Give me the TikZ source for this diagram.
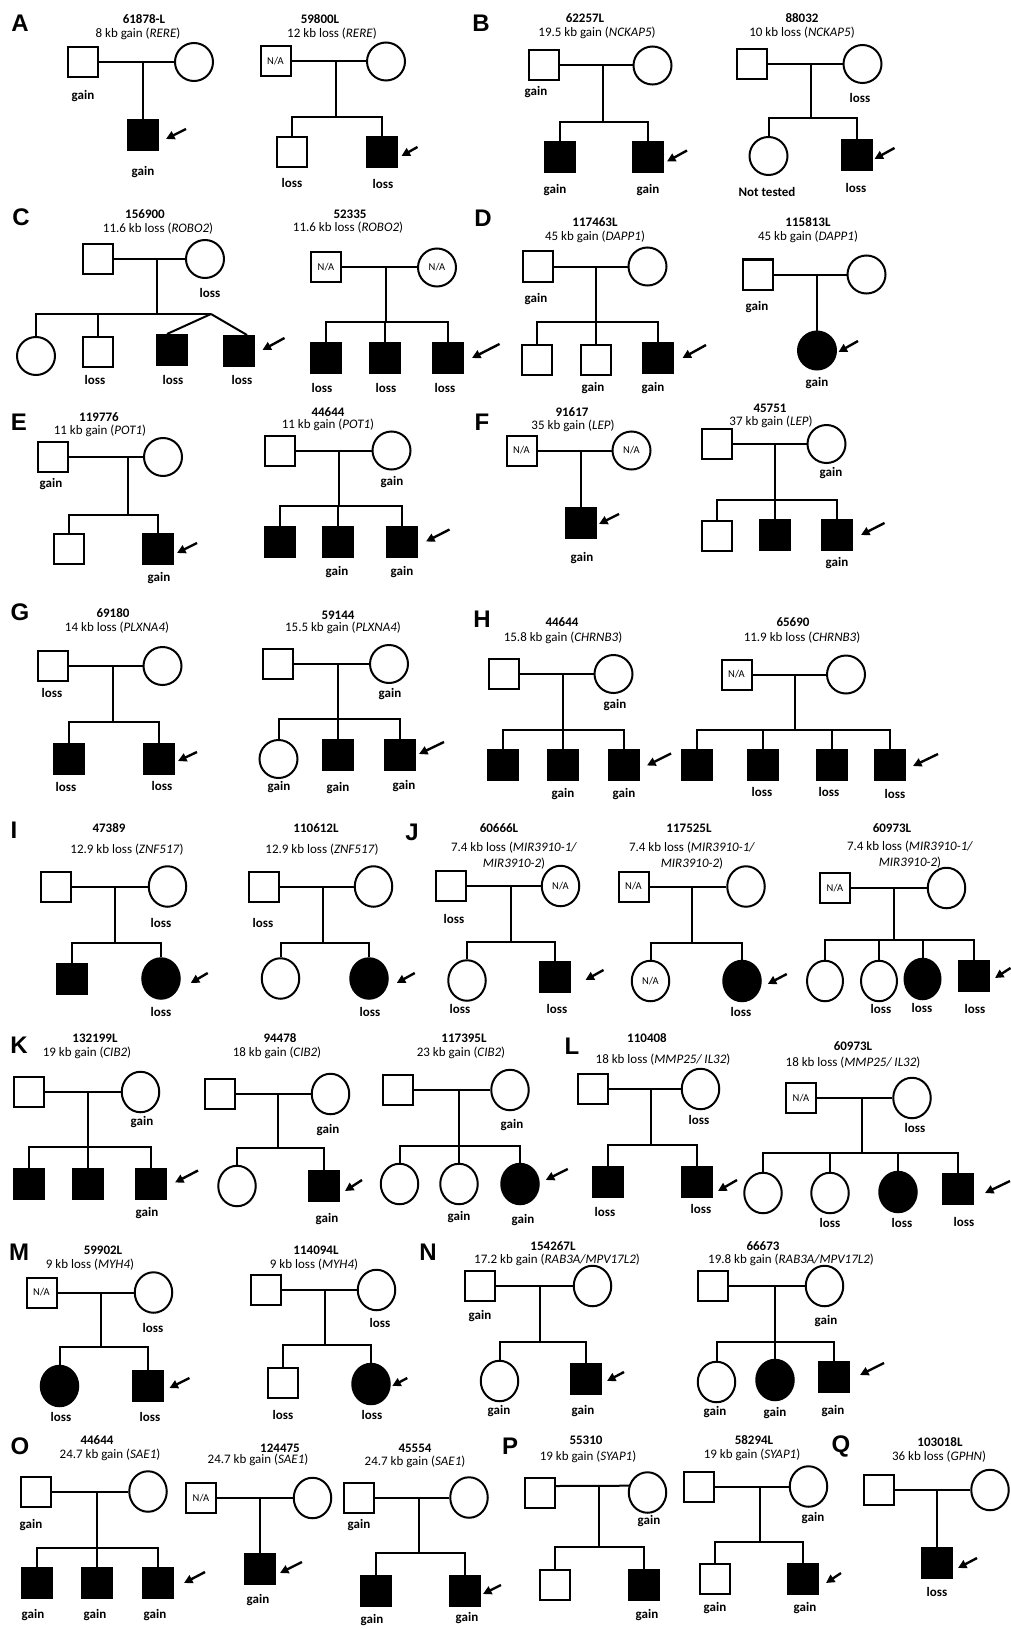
\documentclass[tikz,border=0pt]{standalone}
\usepackage{fontspec}
\setmainfont{Carlito}
\newfontfamily\panelfont{Liberation Sans}
\usetikzlibrary{shapes.geometric,arrows.meta}
\tikzset{
  lw/.style={line width=2pt},
  msq/.style={draw, rectangle, line width=2pt, minimum width=30pt, minimum height=30pt, inner sep=0pt, fill=white, font=\fontsize{10.5}{12}\selectfont},
  msqa/.style={msq, fill=black},
  fci/.style={draw, circle, line width=2pt, minimum size=38pt, inner sep=0pt, fill=white, font=\fontsize{10.5}{12}\selectfont},
  fcia/.style={fci, fill=black},
  fel/.style={draw, ellipse, line width=2pt, minimum width=37.5pt, minimum height=40.5pt, inner sep=0pt, fill=white, font=\fontsize{10.5}{12}\selectfont},
  fela/.style={fel, fill=black},
  pid/.style={font=\bfseries\fontsize{13}{15}\selectfont, inner sep=0pt},
  cnv/.style={font=\fontsize{13}{16}\selectfont, inner sep=0pt, align=center},
  gl/.style={font=\bfseries\fontsize{13}{15}\selectfont, inner sep=0pt},
  panel/.style={font=\panelfont\bfseries\fontsize{24}{24}\selectfont, inner sep=0pt},
  arr/.style={line width=2.4pt, -{Triangle[length=8.5pt,width=8.5pt]}},
}
\newcommand{\pa}[5]{\draw[arr] ([shift={(#2pt,#3pt)}]#1.east) -- ([shift={(#4pt,#5pt)}]#1.east);}
\begin{document}
\begin{tikzpicture}[x=1pt,y=-1pt]
\fill[white] (0,0) rectangle (1010,1629);
\useasboundingbox (0,0) rectangle (1010,1629);

% ================= A =================
\node[panel] (pA) at (20,23) {A};
% A1
\node[pid] (a1id) at (144,19) {61878-L};
\node[cnv] (a1cnv) at (138,34) {8 kb gain (\textit{RERE})};
\node[msq] (a1f) at (82.5,62) {};
\node[fci] (a1m) at (194,62) {};
\coordinate (a1t) at (143,62);
\node[msqa] (a1c) at (143,135.5) {};
\node[gl] (a1fl) at (83,96) {gain};
\node[gl] (a1cl) at (143,172) {gain};
\draw[lw] (a1f) -- (a1m);
\draw[lw] (a1t) -- (a1c);
\pa{a1c}{27}{6.5}{7}{-3.5}
% A2
\node[pid] (a2id) at (320,19) {59800L};
\node[cnv] (a2cnv) at (332,34) {12 kb loss (\textit{RERE})};
\node[msq] (a2f) at (275.5,61.5) {N/A};
\node[fci] (a2m) at (386,61.5) {};
\coordinate (a2t) at (336,61.5);
\coordinate (a2s) at (336,117);
\node[msq] (a2c1) at (292,152.5) {};
\node[msqa] (a2c2) at (381.5,152.5) {};
\node[gl] (a2c1l) at (292,183) {loss};
\node[gl] (a2c2l) at (383,184) {loss};
\draw[lw] (a2f) -- (a2m);
\draw[lw] (a2t) -- (a2s);
\draw[lw] (a2c1) |- (a2s) -| (a2c2);
\pa{a2c2}{20}{5.5}{4}{-3.5}

% ================= B =================
\node[panel] (pB) at (481,23) {B};
% B1
\node[pid] (b1id) at (585,18) {62257L};
\node[cnv] (b1cnv) at (597,33) {19.5 kb gain (\textit{NCKAP5})};
\node[msq] (b1f) at (543.5,65.5) {};
\node[fci] (b1m) at (652.5,65.5) {};
\coordinate (b1t) at (603,65.5);
\coordinate (b1s) at (603,122);
\node[msqa] (b1c1) at (560,157) {};
\node[msqa] (b1c2) at (648,157) {};
\node[gl] (b1fl) at (536,92) {gain};
\node[gl] (b1c1l) at (555,190) {gain};
\node[gl] (b1c2l) at (648,190) {gain};
\draw[lw] (b1f) -- (b1m);
\draw[lw] (b1t) -- (b1s);
\draw[lw] (b1c1) |- (b1s) -| (b1c2);
\pa{b1c2}{23}{6.5}{3}{-4.5}
% B2
\node[pid] (b2id) at (802,18) {88032};
\node[cnv] (b2cnv) at (802,33) {10 kb loss (\textit{NCKAP5})};
\node[msq] (b2f) at (752,64) {};
\node[fci] (b2m) at (862.5,64) {};
\coordinate (b2t) at (811,64);
\coordinate (b2s) at (811,118);
\node[fci] (b2c1) at (768.5,156) {};
\node[msqa] (b2c2) at (856.5,155.5) {};
\node[gl] (b2ml) at (860,98) {loss};
\node[gl] (b2c1l) at (767,192) {Not tested};
\node[gl] (b2c2l) at (856,188) {loss};
\draw[lw] (b2f) -- (b2m);
\draw[lw] (b2t) -- (b2s);
\draw[lw] (b2c1) |- (b2s) -| (b2c2);
\pa{b2c2}{22}{7.5}{2}{-3.5}

% ================= C =================
\node[panel] (pC) at (21,217) {C};
% C1
\node[pid] (c1id) at (145,214) {156900};
\node[cnv] (c1cnv) at (158,229) {11.6 kb loss (\textit{ROBO2})};
\node[msq] (c1f) at (97.5,259) {};
\node[fci] (c1m) at (205,259) {};
\coordinate (c1t) at (157,259);
\coordinate (c1s) at (157,314);
\coordinate (c1ap) at (211,314);
\node[fci] (c1c1) at (36,356) {};
\node[msq] (c1c2) at (98,352) {};
\node[msqa] (c1c3) at (171.5,350) {};
\node[msqa] (c1c4) at (238.5,351) {};
\node[gl] (c1ml) at (210,293) {loss};
\node[gl] (c1c2l) at (95,380) {loss};
\node[gl] (c1c3l) at (173,380) {loss};
\node[gl] (c1c4l) at (242,380) {loss};
\draw[lw] (c1f) -- (c1m);
\draw[lw] (c1t) -- (c1s);
\draw[lw] (c1c1) |- (c1ap);
\draw[lw] (c1s -| c1c2) -- (c1c2);
\draw[lw] (c1ap) -- ([xshift=-4.5pt]c1c3.north);
\draw[lw] (c1ap) -- ([xshift=8.5pt]c1c4.north);
\pa{c1c4}{30}{13}{8}{1}
% C2
\node[pid] (c2id) at (350,214) {52335};
\node[cnv] (c2cnv) at (348,228) {11.6 kb loss (\textit{ROBO2})};
\node[msq] (c2f) at (326,267) {N/A};
\node[fci] (c2m) at (437,267.5) {N/A};
\coordinate (c2t) at (386,267);
\coordinate (c2s) at (386,322);
\node[msqa] (c2c1) at (326,357.5) {};
\node[msqa] (c2c2) at (385,357.5) {};
\node[msqa] (c2c3) at (447.5,357.5) {};
\node[gl] (c2c1l) at (322,388) {loss};
\node[gl] (c2c2l) at (386,388) {loss};
\node[gl] (c2c3l) at (445,388) {loss};
\draw[lw] (c2f.east) -- (c2f.east -| c2m.west);
\draw[lw] (c2t) -- (c2s);
\draw[lw] (c2c1) |- (c2s) -| (c2c3);
\draw[lw] (c2s -| c2c2) -- (c2c2);
\pa{c2c3}{36}{13.5}{8.5}{-0.5}

% ================= D =================
\node[panel] (pD) at (483,218) {D};
% D1
\node[pid] (d1id) at (595,222) {117463L};
\node[cnv] (d1cnv) at (595,237) {45 kb gain (\textit{DAPP1})};
\node[msq] (d1f) at (537.5,266.5) {};
\node[fci] (d1m) at (647.5,266.5) {};
\coordinate (d1t) at (596,266.5);
\coordinate (d1s) at (596,322);
\node[msq] (d1c1) at (537,359.5) {};
\node[msq] (d1c2) at (595.5,359.5) {};
\node[msqa] (d1c3) at (658,357.5) {};
\node[gl] (d1fl) at (536,299) {gain};
\node[gl] (d1c2l) at (593,388) {gain};
\node[gl] (d1c3l) at (653,388) {gain};
\draw[lw] (d1f) -- (d1m);
\draw[lw] (d1t) -- (d1s);
\draw[lw] (d1c1) |- (d1s) -| (d1c3);
\draw[lw] (d1s -| d1c2) -- (d1c2);
\pa{d1c3}{32}{12.5}{8.5}{-0.5}
% D2
\node[pid] (d2id) at (808,222) {115813L};
\node[cnv] (d2cnv) at (808,237) {45 kb gain (\textit{DAPP1})};
\node[msq] (d2f) at (758,274.5) {};
\node[fci] (d2m) at (866.5,274.5) {};
\coordinate (d2t) at (817,274.5);
\node[fcia] (d2c) at (817,350.5) {};
\node[gl] (d2fl) at (757,307) {gain};
\node[gl] (d2cl) at (817,383) {gain};
\draw[lw] (d2f) -- (d2m);
\draw[lw] (d2t) -- (d2c);
\pa{d2c}{21}{9.5}{1.5}{-1.5}

% ================= E =================
\node[panel] (pE) at (19,422) {E};
% E1
\node[pid] (e1id) at (99,417) {119776};
\node[cnv] (e1cnv) at (100,431) {11 kb gain (\textit{POT1})};
\node[msq] (e1f) at (52.5,457) {};
\node[fci] (e1m) at (163,457) {};
\coordinate (e1t) at (128,457);
\coordinate (e1s) at (128,515);
\node[msq] (e1c1) at (68.5,549) {};
\node[msqa] (e1c2) at (158,549) {};
\node[gl] (e1fl) at (51,484) {gain};
\node[gl] (e1c2l) at (159,578) {gain};
\draw[lw] (e1f) -- (e1m);
\draw[lw] (e1t) -- (e1s);
\draw[lw] (e1c1) |- (e1s) -| (e1c2);
\pa{e1c2}{23}{6}{3}{-4}
% E2
\node[pid] (e2id) at (328,412) {44644};
\node[cnv] (e2cnv) at (328,425) {11 kb gain (\textit{POT1})};
\node[msq] (e2f) at (280,450.5) {};
\node[fci] (e2m) at (391.5,450.5) {};
\coordinate (e2t) at (339,450.5);
\coordinate (e2s) at (339,506);
\node[msqa] (e2c1) at (280,541.5) {};
\node[msqa] (e2c2) at (338,541.5) {};
\node[msqa] (e2c3) at (401.5,541.5) {};
\node[gl] (e2ml) at (392,482) {gain};
\node[gl] (e2c2l) at (337,572) {gain};
\node[gl] (e2c3l) at (402,572) {gain};
\draw[lw] (e2f) -- (e2m);
\draw[lw] (e2t) -- (e2s);
\draw[lw] (e2c1) |- (e2s) -| (e2c3);
\draw[lw] (e2s -| e2c2) -- (e2c2);
\pa{e2c3}{32}{12}{8.5}{0}

% ================= F =================
\node[panel] (pF) at (482,422) {F};
% F1
\node[pid] (f1id) at (572,412) {91617};
\node[cnv] (f1cnv) at (573,426) {35 kb gain (\textit{LEP})};
\node[msq] (f1f) at (521.5,450.5) {N/A};
\node[fci] (f1m) at (631.5,450.5) {N/A};
\coordinate (f1t) at (581,450.5);
\node[msqa] (f1c) at (581,522.5) {};
\node[gl] (f1cl) at (582,558) {gain};
\draw[lw] (f1f) -- (f1m);
\draw[lw] (f1t) -- (f1c);
\pa{f1c}{22}{8.5}{2}{-1.5}
% F2
\node[pid] (f2id) at (770,408) {45751};
\node[cnv] (f2cnv) at (771,422) {37 kb gain (\textit{LEP})};
\node[msq] (f2f) at (716.5,444) {};
\node[fci] (f2m) at (826.5,444) {};
\coordinate (f2t) at (775,444);
\coordinate (f2s) at (775,500);
\node[msq] (f2c1) at (716.5,536) {};
\node[msqa] (f2c2) at (775,535) {};
\node[msqa] (f2c3) at (836.5,535) {};
\node[gl] (f2ml) at (831,473) {gain};
\node[gl] (f2c3l) at (837,563) {gain};
\draw[lw] (f2f) -- (f2m);
\draw[lw] (f2t) -- (f2s);
\draw[lw] (f2c1) |- (f2s) -| (f2c3);
\draw[lw] (f2s -| f2c2) -- (f2c2);
\pa{f2c3}{32}{12}{8.5}{0}

% ================= G =================
\node[panel] (pG) at (20,612) {G};
% G1
\node[pid] (g1id) at (113,613) {69180};
\node[cnv] (g1cnv) at (117,628) {14 kb loss (\textit{PLXNA4})};
\node[msq] (g1f) at (52.5,666) {};
\node[fci] (g1m) at (162.5,666) {};
\coordinate (g1t) at (113,666);
\coordinate (g1s) at (113,722);
\node[msqa] (g1c1) at (68.5,758.5) {};
\node[msqa] (g1c2) at (158.5,758.5) {};
\node[gl] (g1fl) at (52,693) {loss};
\node[gl] (g1c1l) at (66,787) {loss};
\node[gl] (g1c2l) at (162,786) {loss};
\draw[lw] (g1f) -- (g1m);
\draw[lw] (g1t) -- (g1s);
\draw[lw] (g1c1) |- (g1s) -| (g1c2);
\pa{g1c2}{22.5}{6.5}{3.5}{-2.5}
% G2
\node[pid] (g2id) at (338,615) {59144};
\node[cnv] (g2cnv) at (343,628) {15.5 kb gain (\textit{PLXNA4})};
\node[msq] (g2f) at (277.5,664) {};
\node[fci] (g2m) at (389,664) {};
\coordinate (g2t) at (338,664);
\coordinate (g2s) at (338,719);
\node[fci] (g2c1) at (278.5,759) {};
\node[msqa] (g2c2) at (338,754.5) {};
\node[msqa] (g2c3) at (399.5,755) {};
\node[gl] (g2ml) at (390,694) {gain};
\node[gl] (g2c1l) at (279,787) {gain};
\node[gl] (g2c2l) at (338,788) {gain};
\node[gl] (g2c3l) at (404,786) {gain};
\draw[lw] (g2f) -- (g2m);
\draw[lw] (g2t) -- (g2s);
\draw[lw] (g2c1) |- (g2s) -| (g2c3);
\draw[lw] (g2s -| g2c2) -- (g2c2);
\pa{g2c3}{28.5}{13}{3.5}{1}

% ================= H =================
\node[panel] (pH) at (482,619) {H};
% H1
\node[pid] (h1id) at (562,622) {44644};
\node[cnv] (h1cnv) at (563,638) {15.8 kb gain (\textit{CHRNB3})};
\node[msq] (h1f) at (503.5,674) {};
\node[fci] (h1m) at (613.5,674) {};
\coordinate (h1t) at (563,674);
\coordinate (h1s) at (563,730);
\node[msqa] (h1c1) at (503,765) {};
\node[msqa] (h1c2) at (563,765) {};
\node[msqa] (h1c3) at (623.5,765) {};
\node[gl] (h1ml) at (615,705) {gain};
\node[gl] (h1c2l) at (563,794) {gain};
\node[gl] (h1c3l) at (624,794) {gain};
\draw[lw] (h1f) -- (h1m);
\draw[lw] (h1t) -- (h1s);
\draw[lw] (h1c1) |- (h1s) -| (h1c3);
\draw[lw] (h1s -| h1c2) -- (h1c2);
\pa{h1c3}{31.5}{11.5}{7.5}{-0.5}
% H2
\node[pid] (h2id) at (793,622) {65690};
\node[cnv] (h2cnv) at (802,638) {11.9 kb loss (\textit{CHRNB3})};
\node[msq] (h2f) at (736.5,674.5) {N/A};
\node[fci] (h2m) at (846,674.5) {};
\coordinate (h2t) at (795,674.5);
\coordinate (h2s) at (795,730);
\node[msqa] (h2c1) at (697,765) {};
\node[msqa] (h2c2) at (763,765) {};
\node[msqa] (h2c3) at (832,765) {};
\node[msqa] (h2c4) at (890,765) {};
\node[gl] (h2c2l) at (762,792) {loss};
\node[gl] (h2c3l) at (829,792) {loss};
\node[gl] (h2c4l) at (895,794) {loss};
\draw[lw] (h2f) -- (h2m);
\draw[lw] (h2t) -- (h2s);
\draw[lw] (h2c1) |- (h2s) -| (h2c4);
\draw[lw] (h2s -| h2c2) -- (h2c2);
\draw[lw] (h2s -| h2c3) -- (h2c3);
\pa{h2c4}{32}{11}{7}{-1}

% ================= I =================
\node[panel] (pI) at (14,830) {I};
% I1
\node[pid] (i1id) at (109,828) {47389};
\node[cnv] (i1cnv) at (127,850) {12.9 kb loss (\textit{ZNF517})};
\node[msq] (i1f) at (55.5,886.5) {};
\node[fel] (i1m) at (167.5,886.5) {};
\coordinate (i1t) at (115,886.5);
\coordinate (i1s) at (115,943);
\node[msqa] (i1c1) at (72,979) {};
\node[fela] (i1c2) at (161,978.5) {};
\node[gl] (i1ml) at (161,923) {loss};
\node[gl] (i1c2l) at (161,1012) {loss};
\draw[lw] (i1f) -- (i1m);
\draw[lw] (i1t) -- (i1s);
\draw[lw] (i1c1) |- (i1s) -| (i1c2);
\pa{i1c2}{27}{5.5}{10}{-4.5}
% I2
\node[pid] (i2id) at (316,828) {110612L};
\node[cnv] (i2cnv) at (322,850) {12.9 kb loss (\textit{ZNF517})};
\node[msq] (i2f) at (263.5,886.5) {};
\node[fel] (i2m) at (373.5,886.5) {};
\coordinate (i2t) at (323,886.5);
\coordinate (i2s) at (323,943);
\node[fel] (i2c1) at (280.5,978.5) {};
\node[fela] (i2c2) at (369,978.5) {};
\node[gl] (i2fl) at (263,923) {loss};
\node[gl] (i2c2l) at (370,1012) {loss};
\draw[lw] (i2f) -- (i2m);
\draw[lw] (i2t) -- (i2s);
\draw[lw] (i2c1) |- (i2s) -| (i2c2);
\pa{i2c2}{26}{5.5}{8}{-4.5}

% ================= J =================
\node[panel] (pJ) at (412,832) {J};
% J1
\node[pid] (j1id) at (499,828) {60666L};
\node[cnv] (j1cnv) at (514,856) {7.4 kb loss (\textit{MIR3910-1/}\\\textit{MIR3910-2})};
\node[msq] (j1f) at (451,886) {};
\node[fel] (j1m) at (560.5,886) {N/A};
\coordinate (j1t) at (511,886);
\coordinate (j1s) at (511,942);
\node[fel] (j1c1) at (467,980.5) {};
\node[msqa] (j1c2) at (554.5,977) {};
\node[gl] (j1fl) at (454,919) {loss};
\node[gl] (j1c1l) at (460,1009) {loss};
\node[gl] (j1c2l) at (557,1009) {loss};
\draw[lw] (j1f) -- (j1m);
\draw[lw] (j1t) -- (j1s);
\draw[lw] (j1c1) |- (j1s) -| (j1c2);
\pa{j1c2}{33}{7}{15}{-3}
% J2
\node[pid] (j2id) at (689,828) {117525L};
\node[cnv] (j2cnv) at (692,856) {7.4 kb loss (\textit{MIR3910-1/}\\\textit{MIR3910-2})};
\node[msq] (j2f) at (633.5,886.5) {N/A};
\node[fel] (j2m) at (746,886.5) {};
\coordinate (j2t) at (692,886.5);
\coordinate (j2s) at (692,943);
\node[fel] (j2c1) at (650.5,981) {N/A};
\node[fela] (j2c2) at (742,981) {};
\node[gl] (j2c2l) at (741,1012) {loss};
\draw[lw] (j2f) -- (j2m);
\draw[lw] (j2t) -- (j2s);
\draw[lw] (j2c1) |- (j2s) -| (j2c2);
\pa{j2c2}{25}{7}{6}{-3}
% J3
\node[pid] (j3id) at (892,828) {60973L};
\node[cnv] (j3cnv) at (910,855) {7.4 kb loss (\textit{MIR3910-1/}\\\textit{MIR3910-2})};
\node[msq] (j3f) at (835,888) {N/A};
\node[fel] (j3m) at (946.5,888) {};
\coordinate (j3t) at (894,888);
\coordinate (j3s) at (894,940);
\node[fel, minimum width=36pt] (j3c1) at (825,981) {};
\node[fel, minimum width=36pt] (j3c2) at (879,981) {};
\node[fela, minimum width=36pt] (j3c3) at (922.5,979) {};
\node[msqa] (j3c4) at (973.5,976) {};
\node[gl] (j3c2l) at (881,1009) {loss};
\node[gl] (j3c3l) at (922,1008) {loss};
\node[gl] (j3c4l) at (975,1009) {loss};
\draw[lw] (j3f) -- (j3m);
\draw[lw] (j3t) -- (j3s);
\draw[lw] (j3c1) |- (j3s) -| (j3c4);
\draw[lw] (j3s -| j3c2) -- (j3c2);
\draw[lw] (j3s -| j3c3) -- (j3c3);
\pa{j3c4}{21}{8}{5.5}{-2}

% ================= K =================
\node[panel] (pK) at (19,1045) {K};
% K1
\node[pid] (k1id) at (95,1038) {132199L};
\node[cnv] (k1cnv) at (87,1053) {19 kb gain (\textit{CIB2})};
\node[msq] (k1f) at (28.5,1092) {};
\node[fel] (k1m) at (140.5,1092) {};
\coordinate (k1t) at (88,1092);
\coordinate (k1s) at (88,1147);
\node[msqa] (k1c1) at (28.5,1183.5) {};
\node[msqa] (k1c2) at (88,1183.5) {};
\node[msqa] (k1c3) at (150.5,1183.5) {};
\node[gl] (k1ml) at (142,1122) {gain};
\node[gl] (k1c3l) at (147,1213) {gain};
\draw[lw] (k1f) -- (k1m);
\draw[lw] (k1t) -- (k1s);
\draw[lw] (k1c1) |- (k1s) -| (k1c3);
\draw[lw] (k1s -| k1c2) -- (k1c2);
\pa{k1c3}{31.5}{13}{8.5}{1}
% K2
\node[pid] (k2id) at (280,1038) {94478};
\node[cnv] (k2cnv) at (277,1053) {18 kb gain (\textit{CIB2})};
\node[msq] (k2f) at (219.5,1094) {};
\node[fel] (k2m) at (330.5,1094) {};
\coordinate (k2t) at (278,1094);
\coordinate (k2s) at (278,1148);
\node[fel] (k2c1) at (237,1186) {};
\node[msqa] (k2c2) at (324,1186) {};
\node[gl] (k2ml) at (328,1130) {gain};
\node[gl] (k2c2l) at (327,1219) {gain};
\draw[lw] (k2f) -- (k2m);
\draw[lw] (k2t) -- (k2s);
\draw[lw] (k2c1) |- (k2s) -| (k2c2);
\pa{k2c2}{22}{6}{5}{-5}
% K3
\node[pid] (k3id) at (464,1038) {117395L};
\node[cnv] (k3cnv) at (461,1053) {23 kb gain (\textit{CIB2})};
\node[msq] (k3f) at (397.5,1090) {};
\node[fel] (k3m) at (510,1090) {};
\coordinate (k3t) at (459,1090);
\coordinate (k3s) at (459,1146);
\node[fel] (k3c1) at (399.5,1184) {};
\node[fel] (k3c2) at (459,1184) {};
\node[fela] (k3c3) at (520,1184) {};
\node[gl] (k3ml) at (512,1125) {gain};
\node[gl] (k3c2l) at (459,1217) {gain};
\node[gl] (k3c3l) at (523,1220) {gain};
\draw[lw] (k3f) -- (k3m);
\draw[lw] (k3t) -- (k3s);
\draw[lw] (k3c1) |- (k3s) -| (k3c3);
\draw[lw] (k3s -| k3c2) -- (k3c2);
\pa{k3c3}{28}{15}{6}{4}

% ================= L =================
\node[panel] (pL) at (572,1046) {L};
% L1
\node[pid] (l1id) at (647,1038) {110408};
\node[cnv] (l1cnv) at (663,1060) {18 kb loss (\textit{MMP25/ IL32})};
\node[msq] (l1f) at (592.5,1089) {};
\node[fel] (l1m) at (700.5,1089) {};
\coordinate (l1t) at (651,1089);
\coordinate (l1s) at (651,1145);
\node[msqa] (l1c1) at (607.5,1182) {};
\node[msqa] (l1c2) at (697,1182) {};
\node[gl] (l1ml) at (699,1120) {loss};
\node[gl] (l1c1l) at (605,1212) {loss};
\node[gl] (l1c2l) at (701,1209) {loss};
\draw[lw] (l1f) -- (l1m);
\draw[lw] (l1t) -- (l1s);
\draw[lw] (l1c1) |- (l1s) -| (l1c2);
\pa{l1c2}{24}{2}{5}{-9}
% L2
\node[pid] (l2id) at (853,1046) {60973L};
\node[cnv] (l2cnv) at (853,1063) {18 kb loss (\textit{MMP25/ IL32})};
\node[msq] (l2f) at (801,1098) {N/A};
\node[fel] (l2m) at (912,1098) {};
\coordinate (l2t) at (862,1098);
\coordinate (l2s) at (862,1153);
\node[fel] (l2c1) at (763,1193) {};
\node[fel] (l2c2) at (830,1193) {};
\node[fela] (l2c3) at (898,1192) {};
\node[msqa] (l2c4) at (957.5,1189) {};
\node[gl] (l2ml) at (915,1128) {loss};
\node[gl] (l2c2l) at (830,1223) {loss};
\node[gl] (l2c3l) at (902,1223) {loss};
\node[gl] (l2c4l) at (964,1222) {loss};
\draw[lw] (l2f) -- (l2m);
\draw[lw] (l2t) -- (l2s);
\draw[lw] (l2c1) |- (l2s) -| (l2c4);
\draw[lw] (l2s -| l2c2) -- (l2c2);
\draw[lw] (l2s -| l2c3) -- (l2c3);
\pa{l2c4}{36.5}{8}{11.5}{-4}

% ================= M =================
\node[panel] (pM) at (19,1252) {M};
% M1
\node[pid] (m1id) at (103,1250) {59902L};
\node[cnv] (m1cnv) at (90,1265) {9 kb loss (\textit{MYH4})};
\node[msq] (m1f) at (41.5,1292.5) {N/A};
\node[fel] (m1m) at (153.5,1292.5) {};
\coordinate (m1t) at (101,1292.5);
\coordinate (m1s) at (101,1347);
\node[fela] (m1c1) at (59.5,1386) {};
\node[msqa] (m1c2) at (148,1385.5) {};
\node[gl] (m1ml) at (153,1328) {loss};
\node[gl] (m1c1l) at (61,1417) {loss};
\node[gl] (m1c2l) at (150,1417) {loss};
\draw[lw] (m1f) -- (m1m);
\draw[lw] (m1t) -- (m1s);
\draw[lw] (m1c1) |- (m1s) -| (m1c2);
\pa{m1c2}{25.5}{7.5}{5.5}{-2.5}
% M2
\node[pid] (m2id) at (316,1250) {114094L};
\node[cnv] (m2cnv) at (314,1265) {9 kb loss (\textit{MYH4})};
\node[msq] (m2f) at (265.5,1290) {};
\node[fel] (m2m) at (376.5,1290) {};
\coordinate (m2t) at (325,1290);
\coordinate (m2s) at (325,1345);
\node[msq] (m2c1) at (282.5,1383) {};
\node[fela] (m2c2) at (371,1384) {};
\node[gl] (m2ml) at (380,1323) {loss};
\node[gl] (m2c1l) at (283,1415) {loss};
\node[gl] (m2c2l) at (372,1415) {loss};
\draw[lw] (m2f) -- (m2m);
\draw[lw] (m2t) -- (m2s);
\draw[lw] (m2c1) |- (m2s) -| (m2c2);
\pa{m2c2}{16.5}{6}{1.5}{-2}

% ================= N =================
\node[panel] (pN) at (428,1252) {N};
% N1
\node[pid] (n1id) at (553,1246) {154267L};
\node[cnv] (n1cnv) at (557,1260) {17.2 kb gain (\textit{RAB3A/MPV17L2})};
\node[msq] (n1f) at (479.5,1286) {};
\node[fel] (n1m) at (592.5,1286) {};
\coordinate (n1t) at (540,1286);
\coordinate (n1s) at (540,1342);
\node[fel] (n1c1) at (499.5,1381) {};
\node[msqa] (n1c2) at (586,1379) {};
\node[gl] (n1fl) at (480,1316) {gain};
\node[gl] (n1c1l) at (499,1411) {gain};
\node[gl] (n1c2l) at (583,1411) {gain};
\draw[lw] (n1f) -- (n1m);
\draw[lw] (n1t) -- (n1s);
\draw[lw] (n1c1) |- (n1s) -| (n1c2);
\pa{n1c2}{22}{7}{5}{-2}
% N2
\node[pid] (n2id) at (763,1246) {66673};
\node[cnv] (n2cnv) at (791,1260) {19.8 kb gain (\textit{RAB3A/MPV17L2})};
\node[msq] (n2f) at (713,1286) {};
\node[fel] (n2m) at (824.5,1286) {};
\coordinate (n2t) at (775,1286);
\coordinate (n2s) at (775,1342);
\node[fel] (n2c1) at (716.5,1382) {};
\node[fela] (n2c2) at (775,1380) {};
\node[msqa] (n2c3) at (834,1376.5) {};
\node[gl] (n2ml) at (826,1321) {gain};
\node[gl] (n2c1l) at (715,1412) {gain};
\node[gl] (n2c2l) at (775,1413) {gain};
\node[gl] (n2c3l) at (833,1411) {gain};
\draw[lw] (n2f) -- (n2m);
\draw[lw] (n2t) -- (n2s);
\draw[lw] (n2c1) |- (n2s) -| (n2c3);
\draw[lw] (n2s -| n2c2) -- (n2c2);
\pa{n2c3}{34}{13.5}{10}{1.5}

% ================= O =================
\node[panel] (pO) at (20,1446) {O};
% O1
\node[pid] (o1id) at (97,1440) {44644};
\node[cnv] (o1cnv) at (110,1455) {24.7 kb gain (\textit{SAE1})};
\node[msq] (o1f) at (35.5,1491.5) {};
\node[fel] (o1m) at (148,1491.5) {};
\coordinate (o1t) at (97,1491.5);
\coordinate (o1s) at (97,1548);
\node[msqa] (o1c1) at (37,1583) {};
\node[msqa] (o1c2) at (97,1583) {};
\node[msqa] (o1c3) at (158,1583) {};
\node[gl] (o1fl) at (31,1525) {gain};
\node[gl] (o1c1l) at (33,1615) {gain};
\node[gl] (o1c2l) at (95,1615) {gain};
\node[gl] (o1c3l) at (155,1615) {gain};
\draw[lw] (o1f) -- (o1m);
\draw[lw] (o1t) -- (o1s);
\draw[lw] (o1c1) |- (o1s) -| (o1c3);
\draw[lw] (o1s -| o1c2) -- (o1c2);
\pa{o1c3}{31}{11}{10}{0}
% O2
\node[pid] (o2id) at (280,1448) {124475};
\node[cnv] (o2cnv) at (258,1460) {24.7 kb gain (\textit{SAE1})};
\node[msq] (o2f) at (201,1498) {N/A};
\node[fel] (o2m) at (312.5,1498) {};
\coordinate (o2t) at (260,1498);
\node[msqa] (o2c) at (260,1568.5) {};
\node[gl] (o2cl) at (258,1600) {gain};
\draw[lw] (o2f) -- (o2m);
\draw[lw] (o2t) -- (o2c);
\pa{o2c}{26}{6.5}{4}{-4.5}
% O3
\node[pid] (o3id) at (415,1448) {45554};
\node[cnv] (o3cnv) at (415,1462) {24.7 kb gain (\textit{SAE1})};
\node[msq] (o3f) at (358.5,1497.5) {};
\node[fel] (o3m) at (469,1497.5) {};
\coordinate (o3t) at (419,1497.5);
\coordinate (o3s) at (419,1553);
\node[msqa] (o3c1) at (376,1591) {};
\node[msqa] (o3c2) at (464.5,1591) {};
\node[gl] (o3fl) at (359,1525) {gain};
\node[gl] (o3c1l) at (372,1620) {gain};
\node[gl] (o3c2l) at (467,1618) {gain};
\draw[lw] (o3f) -- (o3m);
\draw[lw] (o3t) -- (o3s);
\draw[lw] (o3c1) |- (o3s) -| (o3c2);
\pa{o3c2}{20.5}{6}{2.5}{-3}

% ================= P =================
\node[panel] (pP) at (510,1446) {P};
% P1
\node[pid] (p1id) at (586,1440) {55310};
\node[cnv] (p1cnv) at (588,1457) {19 kb gain (\textit{SYAP1})};
\node[msq] (p1f) at (539.5,1492.5) {};
\node[fel] (p1m) at (647.5,1492.5) {};
\coordinate (p1t) at (599,1486);
\coordinate (p1s) at (599,1547);
\node[msq] (p1c1) at (555,1585) {};
\node[msqa] (p1c2) at (644,1585) {};
\node[gl] (p1ml) at (649,1521) {gain};
\node[gl] (p1c2l) at (647,1615) {gain};
\draw[lw] (p1f.east |- p1t) -- (p1m.160);
\draw[lw] (p1t) -- (p1s);
\draw[lw] (p1c1) |- (p1s) -| (p1c2);
% P2
\node[pid] (p2id) at (754,1440) {58294L};
\node[cnv] (p2cnv) at (752,1455) {19 kb gain (\textit{SYAP1})};
\node[msq] (p2f) at (699,1486.5) {};
\node[fel] (p2m) at (808.5,1486.5) {};
\coordinate (p2t) at (760,1486.5);
\coordinate (p2s) at (760,1542);
\node[msq] (p2c1) at (715,1579) {};
\node[msqa] (p2c2) at (803,1579) {};
\node[gl] (p2ml) at (813,1518) {gain};
\node[gl] (p2c1l) at (715,1608) {gain};
\node[gl] (p2c2l) at (805,1608) {gain};
\draw[lw] (p2f) -- (p2m);
\draw[lw] (p2t) -- (p2s);
\draw[lw] (p2c1) |- (p2s) -| (p2c2);
\pa{p2c2}{22}{6}{7}{-4}

% ================= Q =================
\node[panel] (pQ) at (841,1446) {Q};
\node[pid] (q1id) at (940,1442) {103018L};
\node[cnv] (q1cnv) at (939,1457) {36 kb loss (\textit{GPHN})};
\node[msq] (q1f) at (878.5,1490) {};
\node[fel] (q1m) at (990,1490) {};
\coordinate (q1t) at (937,1490);
\node[msqa] (q1c) at (937,1562.5) {};
\node[gl] (q1cl) at (937,1592) {loss};
\draw[lw] (q1f) -- (q1m);
\draw[lw] (q1t) -- (q1c);
\pa{q1c}{24}{4.5}{5}{-5.5}

\end{tikzpicture}
\end{document}
